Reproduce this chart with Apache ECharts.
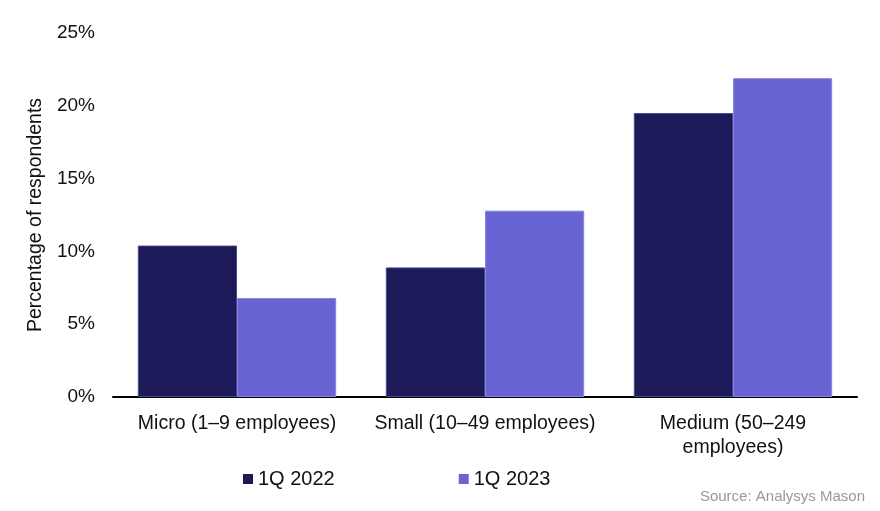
<!DOCTYPE html>
<html><head><meta charset="utf-8">
<script src="https://cdn.jsdelivr.net/npm/echarts@6/dist/echarts.min.js"></script>
<style>html,body{margin:0;padding:0;background:#fff}#c{width:880px;height:511px}</style>
</head><body><div id="c"></div>
<script>
const categories = ["Micro (1–9 employees)", "Small (10–49 employees)", "Medium (50–249\nemployees)"];
const seriesNames = ["1Q 2022", "1Q 2023"];
const values2022 = [10.4, 8.9, 19.5];
const values2023 = [6.8, 12.8, 21.9];
const yTicks = [0, 5, 10, 15, 20, 25];

const chart = echarts.init(document.getElementById('c'));
const font = 'Liberation Sans, Arial, sans-serif';
chart.setOption({
  animation: false,
  textStyle: {fontFamily: font},
  grid: {left: 113, right: 23, top: 33, bottom: 114, containLabel: false},
  legend: {
    data: seriesNames, top: 464, left: 238, itemGap: 124,
    icon: 'rect', itemWidth: 10, itemHeight: 10,
    itemStyle: {borderWidth: 0},
    textStyle: {fontSize: 20, color: '#111', fontFamily: font}
  },
  graphic: [{type: 'text', right: 15, top: 489, style: {text: 'Source: Analysys Mason', fill: '#999', font: '15px ' + font}}],
  xAxis: {
    type: 'category', data: categories,
    axisLine: {lineStyle: {color: '#000', width: 2}},
    axisTick: {show: false},
    axisLabel: {fontSize: 19.5, color: '#111', margin: 15, lineHeight: 24, interval: 0}
  },
  yAxis: {
    type: 'value', min: yTicks[0], max: yTicks[yTicks.length - 1], interval: 5,
    name: 'Percentage of respondents', nameLocation: 'middle', nameGap: 58,
    nameTextStyle: {fontSize: 19.5, color: '#111'},
    axisLine: {show: false}, axisTick: {show: false}, splitLine: {show: false},
    axisLabel: {fontSize: 19, color: '#111', margin: 18, formatter: v => v + '%'}
  },
  series: [
    {name: seriesNames[0], type: 'bar', data: values2022, barGap: '0%', barCategoryGap: '20%',
     itemStyle: {color: '#1c1a58', borderColor: '#4a4888', borderWidth: 1}},
    {name: seriesNames[1], type: 'bar', data: values2023, barGap: '0%', barCategoryGap: '20%',
     itemStyle: {color: '#6864d4', borderColor: '#8a86e0', borderWidth: 1}}
  ]
});
</script></body></html>
